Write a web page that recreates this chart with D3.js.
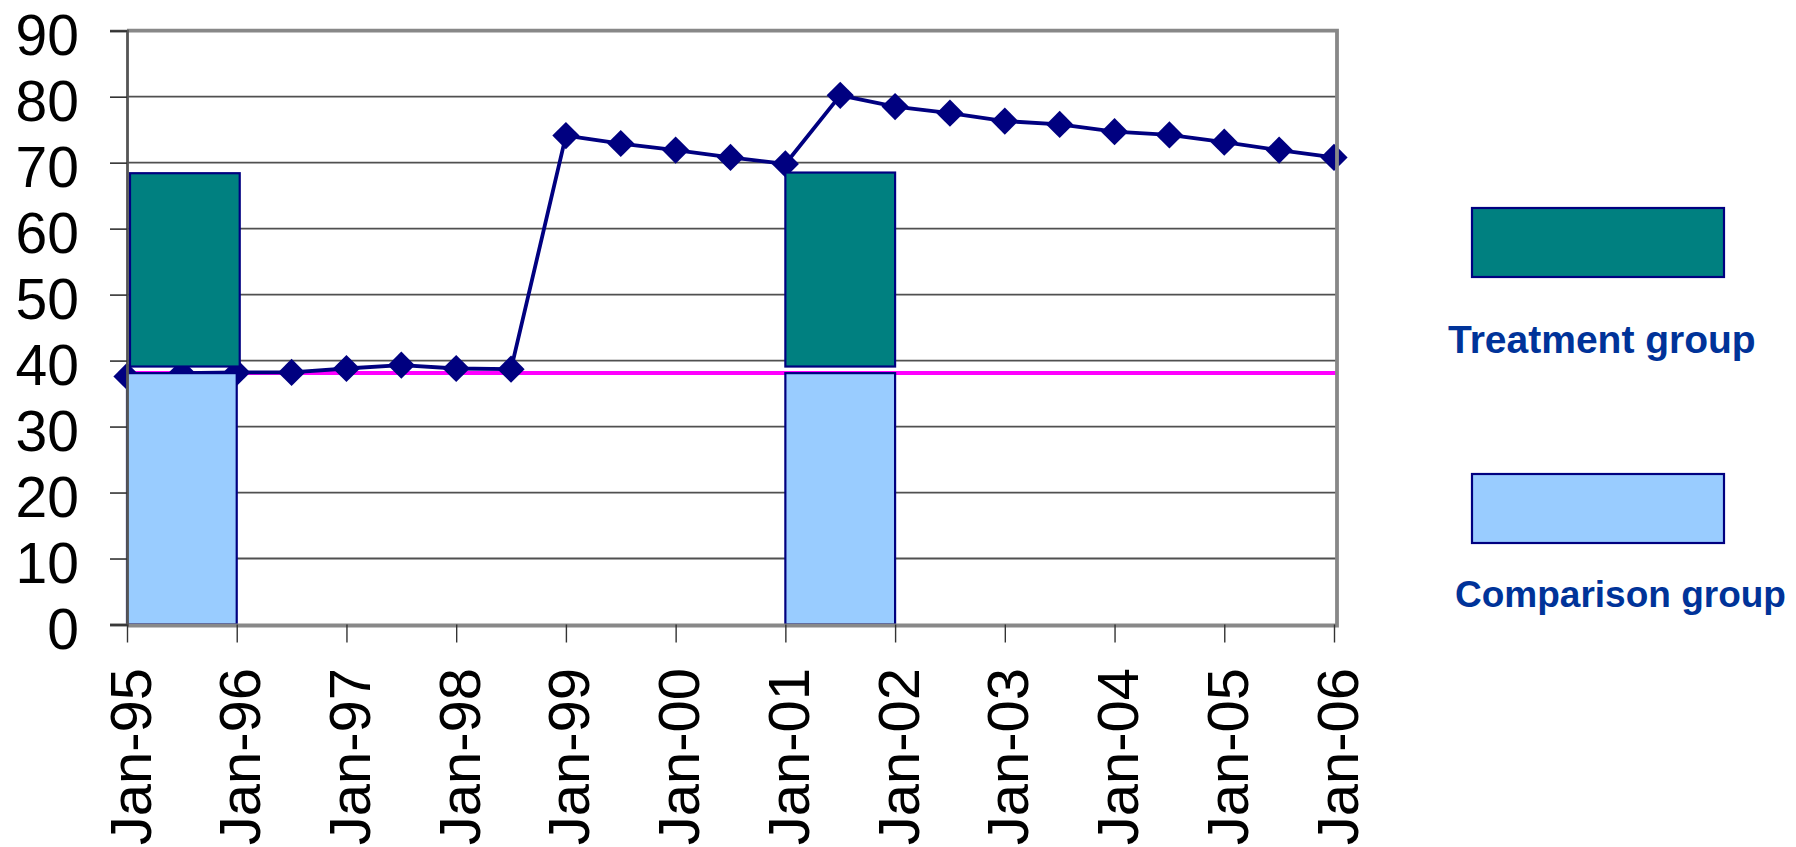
<!DOCTYPE html>
<html>
<head>
<meta charset="utf-8">
<script src="https://cdn.jsdelivr.net/npm/d3@7"></script>
<style>
  html, body { margin: 0; padding: 0; background: #fff; }
  svg { display: block; }
</style>
</head>
<body>
<script>
// ---- data ----
const periods = ["Jan-95","Jul-95","Jan-96","Jul-96","Jan-97","Jul-97","Jan-98","Jul-98",
  "Jan-99","Jul-99","Jan-00","Jul-00","Jan-01","Jul-01","Jan-02","Jul-02","Jan-03","Jul-03",
  "Jan-04","Jul-04","Jan-05","Jul-05","Jan-06"];
const lineValues = [37.6, 38.1, 38.2, 38.2, 38.8, 39.3, 38.8, 38.7,
  74.1, 72.9, 71.9, 70.8, 69.8, 80.2, 78.5, 77.5, 76.3, 75.8,
  74.7, 74.2, 73.1, 71.9, 70.8];
const xTickLabels = ["Jan-95","Jan-96","Jan-97","Jan-98","Jan-99","Jan-00","Jan-01",
  "Jan-02","Jan-03","Jan-04","Jan-05","Jan-06"];
const yTicks = [0, 10, 20, 30, 40, 50, 60, 70, 80, 90];
const baselineValue = 38.1;
const barStart = ["Jan-95", "Jan-01"];
const barEnd = ["Jan-96", "Jan-02"];
const comparisonTop = [38.1, 38.1];
const treatmentBottom = [39.1, 39.1];
const treatmentTop = [68.4, 68.5];
const legendLabels = ["Treatment group", "Comparison group"];
const legendColors = ["#008080", "#99CCFF"];

// ---- layout ----
const W = 1796, H = 847;
const pL = 127, pR = 1334, pRBorder = 1337, pT = 30.7, pB = 624.5;
const navy = "#000080";

const svg = d3.select("body").append("svg").attr("width", W).attr("height", H);

const x = d3.scalePoint().domain(periods).range([pL, pR]);
const y = d3.scaleLinear().domain([0, 90]).range([pB, pT]);

// gridlines
svg.append("g").selectAll("line").data(yTicks.filter(d => d > 0 && d < 90)).join("line")
  .attr("x1", pL).attr("x2", pRBorder)
  .attr("y1", d => y(d)).attr("y2", d => y(d))
  .attr("stroke", "#505050").attr("stroke-width", 1.8);

// baseline (magenta)
svg.append("line")
  .attr("x1", pL).attr("x2", pRBorder)
  .attr("y1", y(baselineValue)).attr("y2", y(baselineValue))
  .attr("stroke", "#FF00FF").attr("stroke-width", 4);

// series line
svg.append("path").datum(lineValues)
  .attr("fill", "none").attr("stroke", navy).attr("stroke-width", 3.8)
  .attr("stroke-linejoin", "round")
  .attr("d", d3.line().x((d, i) => x(periods[i])).y(d => y(d)));

const diamond = d3.symbol(d3.symbolSquare, 370);
svg.append("g").selectAll("path").data(lineValues).join("path")
  .attr("d", diamond)
  .attr("fill", navy)
  .attr("transform", (d, i) => `translate(${x(periods[i])},${y(d)}) rotate(45)`);

// bars
const bars = svg.append("g");
barStart.forEach((s, i) => {
  const x0 = x(s), x1 = x(barEnd[i]);
  bars.append("rect")
    .attr("x", x0).attr("width", x1 - x0)
    .attr("y", y(comparisonTop[i])).attr("height", y(0) - y(comparisonTop[i]))
    .attr("fill", legendColors[1]).attr("stroke", navy).attr("stroke-width", 2.2);
  bars.append("rect")
    .attr("x", x0 + (i === 0 ? 3 : 0)).attr("width", x1 - x0)
    .attr("y", y(treatmentTop[i])).attr("height", y(treatmentBottom[i]) - y(treatmentTop[i]))
    .attr("fill", legendColors[0]).attr("stroke", navy).attr("stroke-width", 2.2);
});

// plot border (top, right, bottom gray)
svg.append("path")
  .attr("d", `M${pL},${pT} H${pRBorder} V${pB + 1} H${pL}`)
  .attr("fill", "none").attr("stroke", "#888").attr("stroke-width", 3.8);

// y axis
const yAxis = svg.append("g").attr("transform", `translate(${pL},0)`)
  .call(d3.axisLeft(y).tickValues(yTicks).tickSize(17).tickPadding(31).tickFormat(d3.format("d")));
yAxis.select(".domain").attr("stroke", "#555").attr("stroke-width", 2.8);
yAxis.selectAll(".tick line").attr("stroke", "#333").attr("stroke-width", 1.6);
yAxis.selectAll(".tick text")
  .attr("dy", 24)
  .attr("fill", "#000")
  .style("font-family", "'Liberation Sans', Arial, sans-serif")
  .style("font-size", "57px");

// x axis
const xAxis = svg.append("g").attr("transform", `translate(0,${pB})`)
  .call(d3.axisBottom(x).tickValues(xTickLabels).tickSize(18));
xAxis.select(".domain").remove();
xAxis.selectAll(".tick line").attr("stroke", "#333").attr("stroke-width", 1.4);
xAxis.selectAll(".tick text")
  .attr("transform", "rotate(-90)")
  .attr("text-anchor", "end")
  .attr("x", -43.5)
  .attr("y", 23)
  .attr("dy", 0)
  .attr("fill", "#000")
  .style("font-family", "'Liberation Sans', Arial, sans-serif")
  .style("font-size", "58px");

// legend
const legend = svg.append("g");
const legendRectY = [208, 474];
const legendTextY = [353, 607];
const legendTextX = [1448, 1455];
const legendFont = [39, 37];
legendLabels.forEach((lab, i) => {
  legend.append("rect")
    .attr("x", 1472).attr("y", legendRectY[i])
    .attr("width", 252).attr("height", 69)
    .attr("fill", legendColors[i]).attr("stroke", navy).attr("stroke-width", 2.2);
  legend.append("text")
    .attr("x", legendTextX[i]).attr("y", legendTextY[i])
    .attr("fill", "#003399")
    .style("font-family", "'Liberation Sans', Arial, sans-serif")
    .style("font-weight", "bold")
    .style("font-size", legendFont[i] + "px")
    .text(lab);
});
</script>
</body>
</html>
